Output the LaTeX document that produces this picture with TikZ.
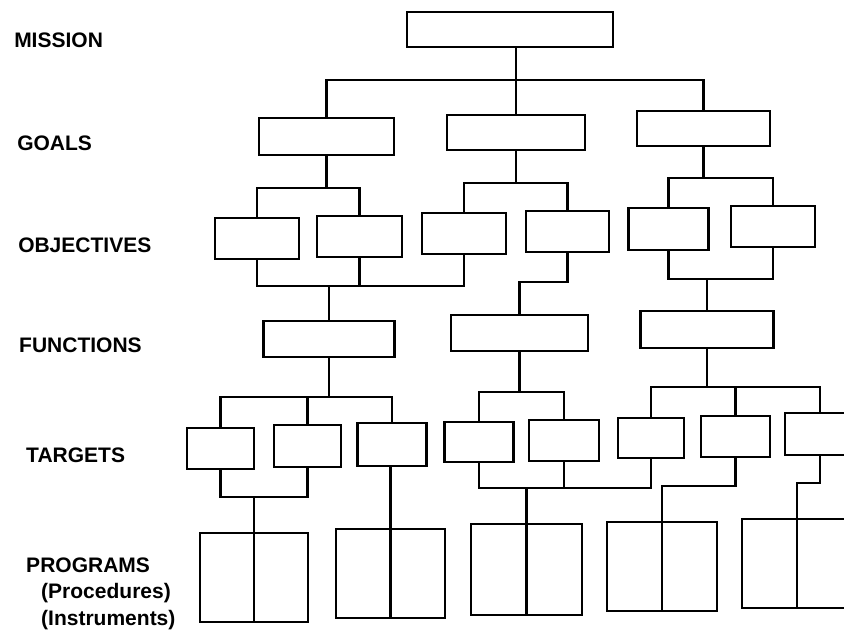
\documentclass[tikz,border=0pt]{standalone}
\usepackage{fontspec}
\newfontfamily\labfont{Liberation Sans}
\begin{document}
\begin{tikzpicture}[x=1pt,y=-1pt,
  line width=2.5pt, line join=miter,
  box/.style 2 args={draw, rectangle, inner sep=0pt, outer sep=0pt,
    minimum width=#1pt, minimum height=#2pt},
  lab/.style={anchor=west, inner sep=0pt,
    font=\labfont\bfseries\fontsize{21}{24}\selectfont}]
\useasboundingbox (0,0) rectangle (844,634);
\clip (0,0) rectangle (844,634);

% level labels
\node[lab] (lmis) at (13,40)  {MISSION};
\node[lab] (lgoa) at (16,143) {GOALS};
\node[lab] (lobj) at (17,245) {OBJECTIVES};
\node[lab] (lfun) at (18,345) {FUNCTIONS};
\node[lab] (ltar) at (25,455) {TARGETS};
\node[lab] (lpro) at (25,565) {PROGRAMS};
\node[lab] (lprc) at (40,593) {(Procedures)};
\node[lab] (lins) at (40,620) {(Instruments)};

% mission
\node[box={206}{35}] (M) at (510,29.5) {};
% goals
\node[box={135}{37}] (G1) at (326.5,136.5) {};
\node[box={138}{35}] (G2) at (516,132.5) {};
\node[box={133}{35}] (G3) at (703.5,128.5) {};
% objectives
\node[box={84}{41}] (O1) at (257,238.5) {};
\node[box={85}{41}] (O2) at (359.5,236.5) {};
\node[box={84}{41}] (O3) at (464,233.5) {};
\node[box={83}{41}] (O4) at (567.5,231.5) {};
\node[box={80}{42}] (O5) at (668.5,229) {};
\node[box={84}{41}] (O6) at (773,226.5) {};
% functions
\node[box={131}{36}] (F1) at (329,339) {};
\node[box={137}{36}] (F2) at (519.5,333) {};
\node[box={133}{37}] (F3) at (707,329.5) {};
% targets
\node[box={67}{41}] (T1) at (220.5,448.5) {};
\node[box={67}{42}] (T2) at (307.5,446) {};
\node[box={69}{43}] (T3) at (392,444.5) {};
\node[box={69}{40}] (T4) at (479,442) {};
\node[box={70}{41}] (T5) at (564,440.5) {};
\node[box={66}{40}] (T6) at (651,438) {};
\node[box={69}{41}] (T7) at (735.5,436.5) {};
\node[box={70}{42}] (T8) at (820,434) {};
% programs
\node[box={108}{89}] (P1) at (254,577.5) {};
\node[box={109}{89}] (P2) at (390.5,573.5) {};
\node[box={111}{91}] (P3) at (526.5,569.5) {};
\node[box={110}{89}] (P4) at (662,566.5) {};
\node[box={110}{89}] (P5) at (797,563.5) {};

% bar heights of the connectors
\coordinate (mbar) at (0,80);
\coordinate (gbar1) at (0,188);
\coordinate (gbar2) at (0,183);
\coordinate (gbar3) at (0,178);
\coordinate (obar1) at (0,286);
\coordinate (obar2) at (0,282);
\coordinate (obar3) at (0,279);
\coordinate (fbar1) at (0,397);
\coordinate (fbar2) at (0,392);
\coordinate (fbar3) at (0,387);
\coordinate (tbar1) at (0,497);
\coordinate (tbar2) at (0,488);
\coordinate (tbar3) at (0,486);
\coordinate (tbar4) at (0,483);

% mission -> goals
\draw (M.south -| G2.north) -- (G2.north);
\draw (G1.north) |- (G3.north |- mbar) -- (G3.north);

% goals -> objectives
\draw (G1.south) -- (G1.south |- gbar1);
\draw (O1.north) |- (O2.north |- gbar1) -- (O2.north);
\draw (G2.south) -- (G2.south |- gbar2);
\draw (O3.north) |- (O4.north |- gbar2) -- (O4.north);
\draw (G3.south) -- (G3.south |- gbar3);
\draw (O5.north) |- (O6.north |- gbar3) -- (O6.north);

% objectives -> functions
\draw (O1.south) |- (O3.south |- obar1) -- (O3.south);
\draw (O2.south) -- (O2.south |- obar1);
\draw (F1.north) -- (F1.north |- obar1);
\draw (O4.south) |- (F2.north |- obar2) -- (F2.north);
\draw (O5.south) |- (O6.south |- obar3) -- (O6.south);
\draw (F3.north) -- (F3.north |- obar3);

% functions -> targets
\draw (F1.south) -- (F1.south |- fbar1);
\draw (T1.north) |- (T3.north |- fbar1) -- (T3.north);
\draw (T2.north) -- (T2.north |- fbar1);
\draw (F2.south) -- (F2.south |- fbar2);
\draw (T4.north) |- (T5.north |- fbar2) -- (T5.north);
\draw (F3.south) -- (F3.south |- fbar3);
\draw (T6.north) |- (T8.north |- fbar3) -- (T8.north);
\draw (T7.north) -- (T7.north |- fbar3);

% targets -> programs (the stem runs on as the divider of each program box)
\draw (T1.south) |- (T2.south |- tbar1) -- (T2.south);
\draw (P1.south) -- (P1.south |- tbar1);
\draw (P2.south) -- (P2.south |- T3.south);
\draw (T4.south) |- (T6.south |- tbar2) -- (T6.south);
\draw (T5.south) -- (T5.south |- tbar2);
\draw (P3.south) -- (P3.south |- tbar2);
\draw (T7.south) |- (P4.south |- tbar3) -- (P4.south);
\draw (T8.south) |- (P5.south |- tbar4) -- (P5.south);
\end{tikzpicture}
\end{document}
